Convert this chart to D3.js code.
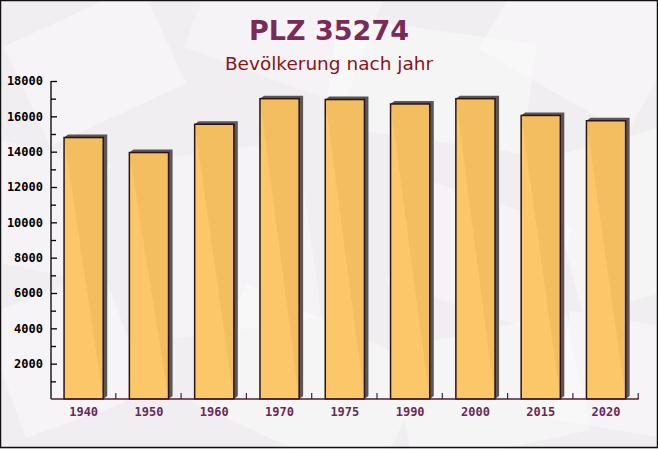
<!DOCTYPE html>
<html>
<head>
<meta charset="utf-8">
<script src="https://cdn.jsdelivr.net/npm/d3@7/dist/d3.min.js"></script>
<style>
  html, body { margin: 0; padding: 0; background: #ffffff; }
  svg { display: block; }
</style>
</head>
<body>
<script>
const years = ["1940", "1950", "1960", "1970", "1975", "1990", "2000", "2015", "2020"];
const population = [14800, 13950, 15550, 17000, 16950, 16700, 17000, 16050, 15750];
const yTickValues = [2000, 4000, 6000, 8000, 10000, 12000, 14000, 16000, 18000];
const yMinorValues = [1000, 3000, 5000, 7000, 9000, 11000, 13000, 15000, 17000];
const titleText = "PLZ 35274";
const subtitleText = "Bevölkerung nach jahr";

const W = 658, H = 449;
const svg = d3.select("body").append("svg").attr("width", W).attr("height", H);

// background
svg.append("rect").attr("x", 0).attr("y", 0).attr("width", W).attr("height", H).attr("fill", "#f1eef1");
const deco = svg.append("g").attr("fill", "#ffffff");
const shapes = [
  [20, 10, 150, 110, -25, 0.35], [200, -40, 170, 120, 20, 0.3], [330, 30, 200, 110, 8, 0.4],
  [500, -30, 170, 130, 30, 0.35], [560, 140, 130, 160, -15, 0.4], [-20, 150, 120, 120, 12, 0.3],
  [150, 150, 160, 180, -8, 0.3], [400, 200, 160, 110, 18, 0.3], [0, 290, 130, 130, -20, 0.35],
  [210, 320, 200, 130, 25, 0.4], [400, 330, 180, 120, -12, 0.4], [560, 320, 120, 110, 10, 0.35]
];
shapes.forEach(s => {
  deco.append("rect").attr("x", s[0]).attr("y", s[1]).attr("width", s[2]).attr("height", s[3])
    .attr("opacity", s[5]).attr("transform", `rotate(${s[4]},${s[0] + s[2] / 2},${s[1] + s[3] / 2})`);
});

// titles
svg.append("text").attr("x", 329).attr("y", 40).attr("text-anchor", "middle")
  .attr("font-family", "'DejaVu Sans', sans-serif").attr("font-weight", "bold").attr("font-size", 27)
  .attr("fill", "#7a2b58").text(titleText);
svg.append("text").attr("x", 329).attr("y", 70).attr("text-anchor", "middle")
  .attr("font-family", "'DejaVu Sans', sans-serif").attr("font-size", 18.5)
  .attr("fill", "#8b1418").text(subtitleText);

const x0 = 51, x1 = 638.7, yBase = 399, yTop = 81;
const x = d3.scaleBand().domain(years).range([x0, x1]).paddingInner(0.4).paddingOuter(0.2);
const y = d3.scaleLinear().domain([0, 18000]).range([yBase, yTop]);

const dx = 4, dy = 3;
const bw = x.bandwidth();

// shadows
svg.append("g").selectAll("path").data(years).join("path")
  .attr("d", (d, i) => {
    const bx = x(d), top = y(population[i]);
    return `M${bx},${top} L${bx + dx},${top - dy} L${bx + bw + dx},${top - dy} L${bx + bw + dx},${yBase - dy} L${bx + bw},${yBase} Z`;
  })
  .attr("fill", "#5b5657");

// bars
svg.append("g").selectAll("rect").data(years).join("rect")
  .attr("x", d => x(d))
  .attr("y", (d, i) => y(population[i]))
  .attr("width", bw)
  .attr("height", (d, i) => yBase - y(population[i]))
  .attr("fill", "#fbc461")
  .attr("fill-opacity", 0.95)
  .attr("stroke", "#2a1414")
  .attr("stroke-width", 1.5);

// y axis
const yAxis = d3.axisRight(y).tickValues(yTickValues).tickSize(6).tickFormat("");
const gy = svg.append("g").attr("transform", `translate(${x0},0)`).call(yAxis);
gy.select(".domain").attr("d", `M0,${yTop}V${yBase}`).attr("stroke", "#000").attr("stroke-width", 1.3);
gy.selectAll(".tick line").attr("stroke", "#000").attr("stroke-width", 1.3);
const yMinor = d3.axisRight(y).tickValues(yMinorValues).tickSize(5).tickFormat("");
const gym = svg.append("g").attr("transform", `translate(${x0},0)`).call(yMinor);
gym.select(".domain").remove();
gym.selectAll(".tick line").attr("stroke", "#000").attr("stroke-width", 1.3);

svg.append("g").selectAll("text").data(yTickValues).join("text")
  .attr("x", 43).attr("y", d => y(d)).attr("dy", "0.36em").attr("text-anchor", "end")
  .attr("font-family", "'DejaVu Sans Mono', monospace").attr("font-weight", "bold").attr("font-size", 12)
  .attr("fill", "#000").text(d => d);

// x axis
const xAxis = d3.axisTop(x).tickSize(0).tickFormat("");
const gx = svg.append("g").attr("transform", `translate(0,${yBase})`).call(xAxis);
gx.select(".domain").attr("d", `M${x0},0H${x1}`).attr("stroke", "#4a2038").attr("stroke-width", 1.3);
gx.selectAll(".tick").remove();
// boundary ticks
svg.append("g").selectAll("line").data(years).join("line")
  .attr("x1", d => x(d) + bw + x.step() * 0.2 - 0.5)
  .attr("x2", d => x(d) + bw + x.step() * 0.2 - 0.5)
  .attr("y1", yBase).attr("y2", yBase - 6)
  .attr("stroke", "#4a2038").attr("stroke-width", 1.2);

svg.append("g").selectAll("text").data(years).join("text")
  .attr("x", d => x(d) + bw / 2).attr("y", 416).attr("text-anchor", "middle")
  .attr("font-family", "'DejaVu Sans Mono', monospace").attr("font-weight", "bold").attr("font-size", 12)
  .attr("fill", "#6a2a55").text(d => d);

// border
svg.append("rect").attr("x", 0.5).attr("y", 0.5).attr("width", W - 1).attr("height", H - 2)
  .attr("fill", "none").attr("stroke", "#111").attr("stroke-width", 1.5);
</script>
</body>
</html>
